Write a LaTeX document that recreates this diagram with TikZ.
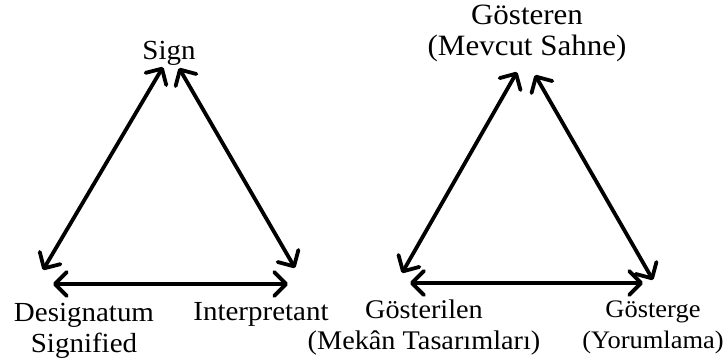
\documentclass[tikz,border=0pt]{standalone}
\usepackage{fontspec}
\setmainfont{Liberation Serif}[FakeStretch=1.05]
\usetikzlibrary{arrows.meta}
\begin{document}
\begin{tikzpicture}[x=1pt,y=-1pt,
    lbl/.style={anchor=base,align=center,inner sep=0pt,font=\fontsize{#1}{31}\selectfont},
    rel/.style={{Straight Barb[length=12pt,width=24pt,round]}-{Straight Barb[length=12pt,width=24pt,round]},line width=3.8pt,line cap=round}]
  \useasboundingbox (0,0) rectangle (727,362);
  % left triangle (Morris)
  \node[lbl=27.6] (sign) at (169,59) {Sign};
  \node[lbl=27.6] (desig) at (84,352) {Designatum\\Signified};
  \node[lbl=27.6] (interp) at (261,320) {Interpretant};
  \coordinate (signL) at (163,67);
  \coordinate (signR) at (179,68);
  \coordinate (desigT) at (43,270);
  \coordinate (desigR) at (53,284);
  \coordinate (interpT) at (295,268);
  \coordinate (interpL) at (288,284);
  \draw[rel] (signL) -- (desigT);
  \draw[rel] (signR) -- (interpT);
  \draw[rel] (desigR) -- (interpL);
  % right triangle (stage)
  \node[lbl=29.5] (gosteren) at (527,55) {Gösteren\\(Mevcut Sahne)};
  \node[lbl=26.9] (gosterilen) at (424,349) {Gösterilen\\(Mekân Tasarımları)};
  \node[lbl=25.2] (gosterge) at (653,348) {Gösterge\\(Yorumlama)};
  \coordinate (gosterenL) at (517,72);
  \coordinate (gosterenR) at (535,75);
  \coordinate (gosterilenT) at (402,273);
  \coordinate (gosterilenR) at (410,283);
  \coordinate (gostergeT) at (653,280);
  \coordinate (gostergeL) at (643,283);
  \draw[rel] (gosterenL) -- (gosterilenT);
  \draw[rel] (gosterenR) -- (gostergeT);
  \draw[rel] (gosterilenR) -- (gostergeL);
\end{tikzpicture}
\end{document}
